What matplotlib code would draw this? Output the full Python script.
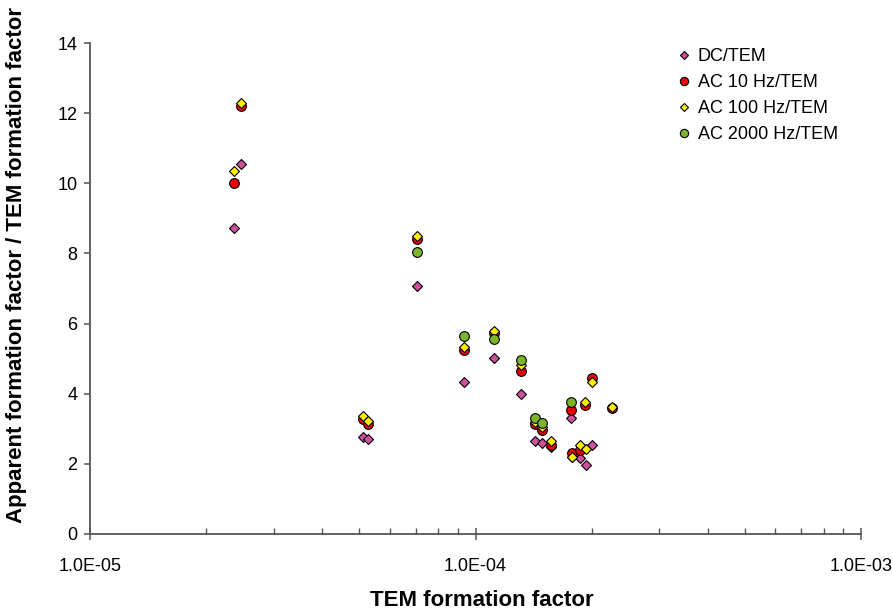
import numpy as np
import matplotlib
matplotlib.use('Agg')
import matplotlib.pyplot as plt
from matplotlib.ticker import FixedLocator, FuncFormatter, LogLocator, NullFormatter

nan = np.nan

# TEM formation factor of each sample
tem = [2.36e-5, 2.46e-5, 5.10e-5, 5.27e-5, 7.03e-5, 9.32e-5, 1.116e-4, 1.315e-4,
       1.426e-4, 1.49e-4, 1.566e-4, 1.773e-4, 1.78e-4, 1.862e-4, 1.93e-4,
       1.92e-4, 2.01e-4, 2.265e-4]

# apparent / TEM formation factor ratios
dc_tem = [8.72, 10.54, 2.77, 2.71, 7.08, 4.33, 5.01, 3.98,
          2.65, 2.59, 2.48, 3.31, 2.20, 2.16, 1.97,
          nan, 2.54, nan]
ac10_tem = [10.00, 12.20, 3.28, 3.14, 8.40, 5.24, 5.72, 4.66,
            3.14, 2.97, 2.54, 3.54, 2.30, 2.40, nan,
            3.68, 4.44, 3.58]
ac100_tem = [10.36, 12.28, 3.36, 3.22, 8.50, 5.33, 5.79, 4.82,
             3.19, 3.05, 2.66, nan, 2.20, 2.54, 2.42,
             3.77, 4.33, 3.61]
ac2000_tem = [nan, nan, nan, nan, 8.05, 5.65, 5.55, 4.96,
              3.30, 3.17, nan, 3.77, nan, nan, nan,
              nan, nan, nan]

labels = ['DC/TEM', 'AC 10 Hz/TEM', 'AC 100 Hz/TEM', 'AC 2000 Hz/TEM']
colors = ['#D0509F', '#E8000B', '#FFEE00', '#7DB52A']
markers = ['D', 'o', 'D', 'o']
sizes = [5.2, 7.0, 5.2, 7.0]

plt.rcParams['font.family'] = ['Liberation Sans', 'DejaVu Sans']

fig = plt.figure(figsize=(8.93, 6.15), dpi=100)
ax = fig.add_axes([90 / 893, 1 - 534 / 615, 771 / 893, 491 / 615])

series = [dc_tem, ac10_tem, ac100_tem, ac2000_tem]
for i, ys in enumerate(series):
    ax.plot(tem, ys, linestyle='none', marker=markers[i], markersize=sizes[i],
            markerfacecolor=colors[i], markeredgecolor='black',
            markeredgewidth=0.8, label=labels[i], zorder=3 + i, clip_on=False)

ax.set_xscale('log')
ax.set_xlim(1e-5, 1e-3)
ax.set_ylim(0, 14)
ax.set_yticks(np.arange(0, 15, 2))

ax.xaxis.set_major_locator(FixedLocator([1e-5, 1e-4, 1e-3]))
ax.xaxis.set_major_formatter(FuncFormatter(lambda v, p: '%.1E' % v))
ax.xaxis.set_minor_locator(LogLocator(base=10, subs=np.arange(2, 10)))
ax.xaxis.set_minor_formatter(NullFormatter())

for side in ['top', 'right']:
    ax.spines[side].set_visible(False)
for side in ['left', 'bottom']:
    ax.spines[side].set_color('#555555')
    ax.spines[side].set_linewidth(1.3)

ax.tick_params(axis='x', which='major', direction='inout', length=8, width=1.1,
               color='#555555', labelsize=13, pad=13)
ax.tick_params(axis='x', which='minor', direction='in', length=4, width=1.0,
               color='#555555')
ax.tick_params(axis='y', which='major', direction='out', length=4, width=1.1,
               color='#555555', labelsize=13, pad=5)

fig.text(482 / 893, 1 - 600 / 615, 'TEM formation factor', fontsize=16,
         fontweight='bold', ha='center', va='center')
fig.text(17 / 893, 1 - 265 / 615,
         'Apparent formation factor / TEM formation factor', fontsize=16,
         fontweight='bold', rotation=90, ha='center', va='center')

leg = ax.legend(loc='upper left', bbox_to_anchor=(679 / 893, 1 - 48 / 615),
                bbox_transform=fig.transFigure, frameon=False, fontsize=13,
                handlelength=0.6, handletextpad=0.45, labelspacing=0.5,
                borderaxespad=0, borderpad=0, markerscale=0.85)

fig.savefig('out.png', dpi=100)
